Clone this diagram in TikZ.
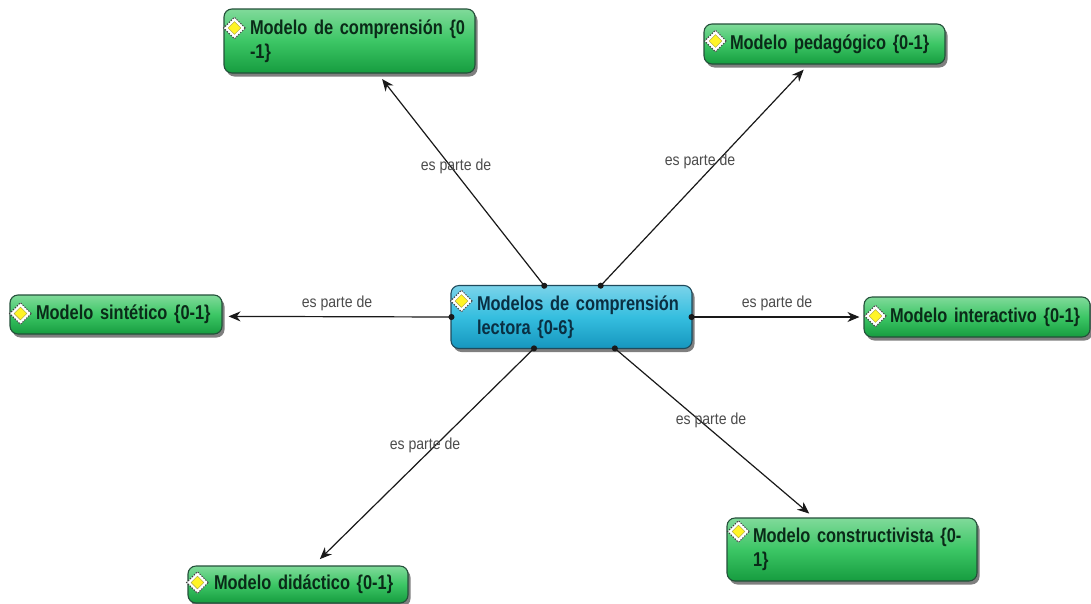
\documentclass[tikz,border=0pt]{standalone}
\usepackage{fontspec}
\setmainfont{Liberation Sans}
\newfontfamily\boxfont[FakeStretch=0.82,WordSpace=0.8]{Liberation Sans Bold}
\newfontfamily\linkfont[FakeStretch=0.88]{Liberation Sans}
\usetikzlibrary{arrows.meta,shadows,shapes.geometric}
\definecolor{gtop}{HTML}{80DA9A}
\definecolor{gmid}{HTML}{3CC665}
\definecolor{gbot}{HTML}{169C3F}
\definecolor{btop}{HTML}{7AD3EA}
\definecolor{bmid}{HTML}{35BEDF}
\definecolor{bbot}{HTML}{1596BE}
\definecolor{gline}{HTML}{24503A}
\definecolor{bline}{HTML}{1F4A5C}
\definecolor{gtext}{HTML}{0A2A18}
\definecolor{btext}{HTML}{0A2F42}
\tikzset{
  basebox/.style={rounded corners=8pt,line width=1.1pt,
    minimum height=#1,inner sep=0pt,align=left,anchor=center,
    font=\boxfont\fontsize{20}{24.5}\selectfont,
    drop shadow={shadow xshift=2.5pt,shadow yshift=-3.5pt,fill=black,opacity=.5}},
  greenbox/.style={basebox=#1,draw=gline,top color=gtop,bottom color=gbot,middle color=gmid,text=gtext},
  bluebox/.style={basebox=#1,draw=bline,top color=btop,bottom color=bbot,middle color=bmid,text=btext},
  conn/.style={line width=1.2pt,draw=black!90,{Circle[length=6pt]}-{Stealth[length=12pt,width=10pt]},shorten <=-4pt},
  linklabel/.style={font=\linkfont\fontsize{16}{18}\selectfont,text=black!70,inner sep=0pt},
  icon/.pic={
    \node[diamond,draw=black!75,line width=1pt,dash pattern=on 1.4pt off 1.3pt,fill=white,minimum size=22pt,inner sep=0pt] {};
    \node[diamond,draw=black!40!yellow,fill=yellow!85!white,line width=0.4pt,minimum size=13pt,inner sep=0pt] {};
  }
}
\begin{document}
\begin{tikzpicture}[x=1pt,y=-1pt]
\useasboundingbox[fill=white] (0,0) rectangle (1091,603);
% boxes
\node[bluebox=63pt,minimum width=241pt,text width=241pt] (central) at (571.5,317)
  {\hspace*{26pt}Modelos de comprensión\\\hspace*{26pt}lectora \{0-6\}};
\node[greenbox=64pt,minimum width=251pt,text width=251pt] (comp) at (349.5,41)
  {\hspace*{26pt}Modelo de comprensión \{0\\\hspace*{26pt}-1\}};
\node[greenbox=40pt,minimum width=241pt,text width=241pt] (peda) at (824.5,44)
  {\hspace*{26pt}Modelo pedagógico \{0-1\}};
\node[greenbox=39pt,minimum width=212pt,text width=212pt] (sint) at (116,314.5)
  {\hspace*{26pt}Modelo sintético \{0-1\}};
\node[greenbox=40pt,minimum width=226pt,text width=226pt] (inter) at (977,317)
  {\hspace*{26pt}Modelo interactivo \{0-1\}};
\node[greenbox=37pt,minimum width=220pt,text width=220pt] (dida) at (298,584.5)
  {\hspace*{26pt}Modelo didáctico \{0-1\}};
\node[greenbox=63pt,minimum width=250pt,text width=250pt] (cons) at (852,549.5)
  {\hspace*{26pt}Modelo constructivista \{0-\\\hspace*{26pt}1\}};
% icons
\pic at ([xshift=11pt,yshift=16pt]central.west) {icon};
\pic at ([xshift=11pt,yshift=13pt]comp.west) {icon};
\pic at ([xshift=12pt,yshift=3pt]peda.west) {icon};
\pic at ([xshift=11pt,yshift=1pt]sint.west) {icon};
\pic at ([xshift=12pt,yshift=1pt]inter.west) {icon};
\pic at ([xshift=10pt,yshift=2pt]dida.west) {icon};
\pic at ([xshift=12pt,yshift=18pt]cons.west) {icon};
% connectors
\draw[conn,shorten >=7pt] (central.131) -- (comp.-49);
\draw[conn,shorten >=7pt] (central.47) -- (peda.-128);
\draw[conn,shorten >=6pt] (central.180) -- (sint.-1);
\draw[conn,shorten >=4pt] (central.0) -- (inter.180);
\draw[conn,shorten >=9pt] (central.220) -- (dida.51);
\draw[conn,shorten >=6pt] (central.-36) -- (cons.140);
% labels
\node[linklabel] (l1) at (456,166) {es parte de};
\node[linklabel] (l2) at (700,161) {es parte de};
\node[linklabel] (l3) at (337,303) {es parte de};
\node[linklabel] (l4) at (777,303) {es parte de};
\node[linklabel] (l5) at (425,445) {es parte de};
\node[linklabel] (l6) at (711,420) {es parte de};
\end{tikzpicture}
\end{document}
